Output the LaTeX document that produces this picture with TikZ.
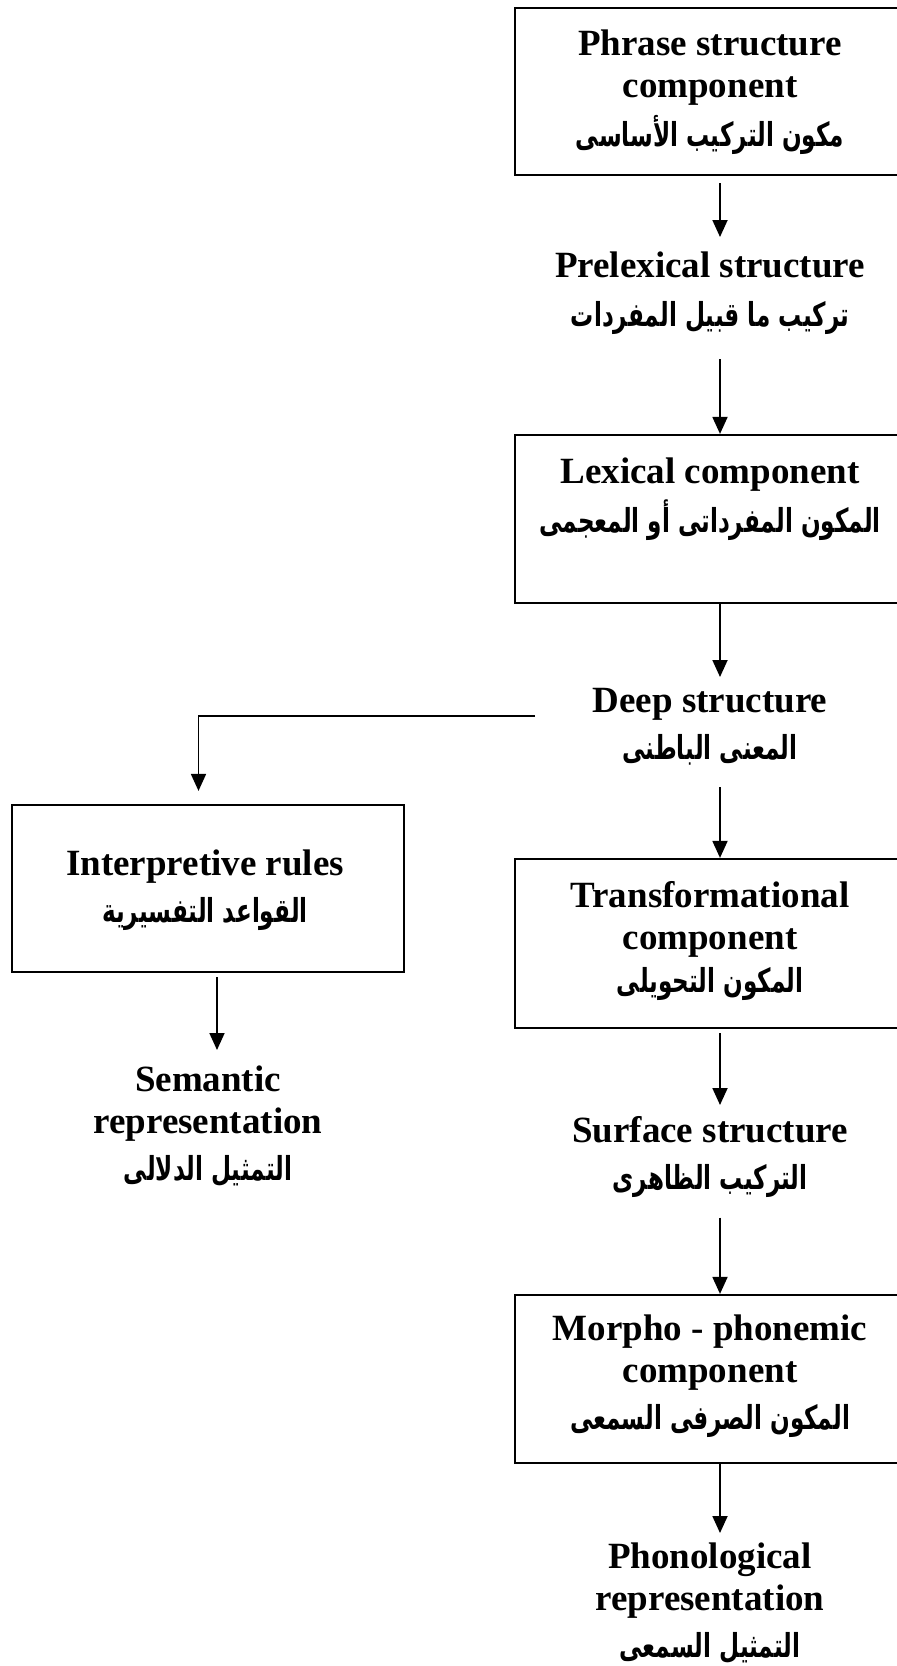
\documentclass[tikz,border=0pt]{standalone}
\usepackage{fontspec}
\usepackage{graphicx}
\setmainfont{Liberation Serif}
\newfontfamily\arfont[Script=Arabic]{DejaVu Sans}
\TeXXeTstate=1
\usetikzlibrary{arrows.meta}
\newcommand{\artxt}[1]{\scalebox{0.70}[1]{\arfont\bfseries\fontsize{33}{42}\selectfont\beginR #1\endR}}
\begin{document}
\begin{tikzpicture}[x=1pt, y=-1pt,
    compbox/.style={draw, line width=2.2pt, minimum width=410pt, minimum height=#1, inner sep=0pt},
    compbox/.default=168pt,
    txt/.style={align=center, inner sep=0pt, anchor=north, font=\bfseries\fontsize{37}{42}\selectfont},
    arr/.style={-{Triangle[length=17pt, width=15pt]}, line width=1.8pt}
]
    \useasboundingbox (0,0) rectangle (897,1666);

    % Boxes
    \node[compbox=167pt] (phrase) at (720,91.5) {};
    \node[compbox] (lex) at (720,519) {};
    \node[compbox=169pt] (trans) at (720,943.5) {};
    \node[compbox] (morpho) at (720,1379) {};
    \node[compbox=167pt, minimum width=392pt] (interp) at (208,888.5) {};

    % Texts
    \node[txt] (phrasetxt) at (710,30) {Phrase structure\\component\\[7pt]\artxt{مكون التركيب الأساسى}};
    \node[txt] (prelex) at (710,252) {Prelexical structure\\[7pt]\artxt{تركيب ما قبيل المفردات}};
    \node[txt] (lextxt) at (710,458) {Lexical component\\[7pt]\artxt{المكون المفرداتى أو المعجمى}};
    \node[txt] (deep) at (710,688) {Deep structure\\[5pt]\artxt{المعنى الباطنى}};
    \node[txt] (transtxt) at (710,881) {Transformational\\component\\[1pt]\artxt{المكون التحويلى}};
    \node[txt] (surface) at (710,1116) {Surface structure\\[5pt]\artxt{التركيب الظاهرى}};
    \node[txt] (morphotxt) at (710,1315) {Morpho - phonemic\\component\\[5pt]\artxt{المكون الصرفى السمعى}};
    \node[txt] (phono) at (710,1543) {Phonological\\representation\\[5pt]\artxt{التمثيل السمعى}};
    \node[txt] (interptxt) at (205,850) {Interpretive rules\\[5pt]\artxt{القواعد التفسيرية}};
    \node[txt] (semantic) at (208,1066) {Semantic\\representation\\[5pt]\artxt{التمثيل الدلالى}};

    % Main column
    \draw[arr, shorten <=7pt, shorten >=15pt] (phrase.south) -- (phrase.south |- prelex.north);
    \draw[arr, shorten <=24pt] (prelex.south -| lex.north) -- (lex.north);
    \draw[arr, shorten >=11pt] (lex.south) -- (lex.south |- deep.north);
    \draw[arr, shorten <=22pt] (deep.south -| trans.north) -- (trans.north);
    \draw[arr, shorten <=4pt, shorten >=11pt] (trans.south) -- (trans.south |- surface.north);
    \draw[arr, shorten <=20pt] (surface.south -| morpho.north) -- (morpho.north);
    \draw[arr, shorten >=10pt] (morpho.south) -- (morpho.south |- phono.north);

    % Branch to interpretive rules
    \coordinate (split) at (535,716);
    \draw[arr, shorten >=13pt] (split) -| ([xshift=-9.5pt]interp.north);
    \draw[arr, shorten <=4pt, shorten >=16pt] ([xshift=9pt]interp.south) -- ([xshift=9pt]interp.south |- semantic.north);
\end{tikzpicture}
\end{document}
